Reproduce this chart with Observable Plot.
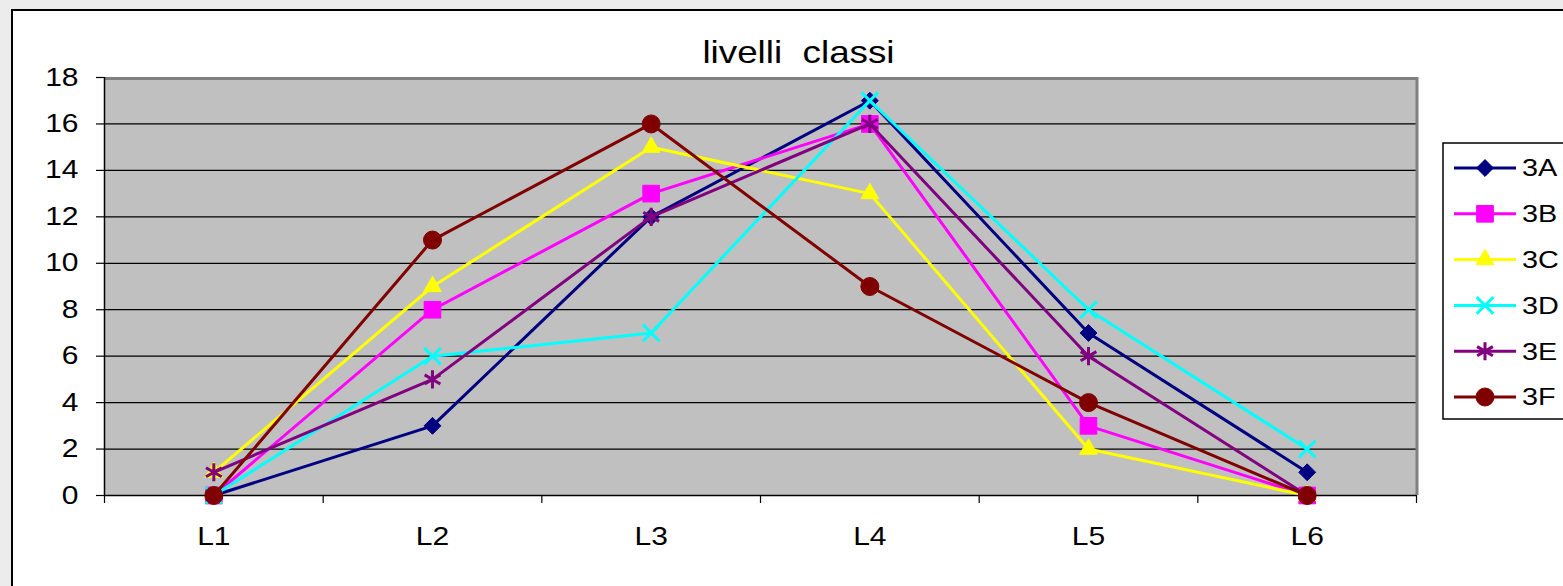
<!DOCTYPE html>
<html>
<head>
<meta charset="utf-8">
<script src="https://cdn.jsdelivr.net/npm/d3@7"></script>
<script src="https://cdn.jsdelivr.net/npm/@observablehq/plot@0.6"></script>
<style>
  html, body { margin: 0; padding: 0; background: #ececec; }
  #wrap { position: relative; width: 1563px; height: 586px; overflow: hidden; }
  #frame { position: absolute; left: 11px; top: 9px; width: 1600px; height: 620px; border: 2px solid #000; background: #fff; }
  #wrap svg { position: absolute; left: 0; top: 0; }
</style>
</head>
<body>
<div id="wrap"><div id="frame"></div></div>
<script>
const title = "livelli  classi";
const categories = ["L1", "L2", "L3", "L4", "L5", "L6"];
const seriesNames = ["3A", "3B", "3C", "3D", "3E", "3F"];
const values3A = [0, 3, 12, 17, 7, 1];
const values3B = [0, 8, 13, 16, 3, 0];
const values3C = [1, 9, 15, 13, 2, 0];
const values3D = [0, 6, 7, 17, 8, 2];
const values3E = [1, 5, 12, 16, 6, 0];
const values3F = [0, 11, 16, 9, 4, 0];
const yTicks = [0, 2, 4, 6, 8, 10, 12, 14, 16, 18];

const seriesValues = [values3A, values3B, values3C, values3D, values3E, values3F];
const colors = ["#000080", "#ff00ff", "#ffff00", "#00ffff", "#800080", "#800000"];
const markers = [
  {symbol: d3.symbolDiamond2, r: 7.6, filled: true},
  {symbol: d3.symbolSquare, r: 9.4, filled: true},
  {symbol: d3.symbolTriangle, r: 6.6, filled: true},
  {symbol: d3.symbolTimes, r: 7.6, filled: false},
  {symbol: d3.symbolAsterisk, r: 8.6, filled: false},
  {symbol: d3.symbolCircle, r: 9, filled: true}
];

const rows = seriesNames.map((s, k) =>
  categories.map((c, i) => ({series: s, cat: c, pos: i + 0.5, value: seriesValues[k][i]}))
);

const FONT = "'Liberation Sans', Arial, Helvetica, sans-serif";

const seriesMarks = rows.flatMap((data, k) => {
  const m = markers[k];
  return [
    Plot.line(data, {x: "pos", y: "value", stroke: colors[k], strokeWidth: 3}),
    Plot.dot(data, {
      x: "pos", y: "value", symbol: () => m.symbol, r: m.r,
      fill: m.filled ? colors[k] : "none",
      stroke: colors[k], strokeWidth: m.filled ? 1 : 3
    })
  ];
});

const plot = Plot.plot({
  width: 1563,
  height: 586,
  marginLeft: 104,
  marginRight: 147,
  marginTop: 77,
  marginBottom: 91,
  style: {background: "transparent", fontFamily: FONT, fontSize: "25px", color: "#000", overflow: "visible"},
  x: {type: "linear", domain: [0, categories.length]},
  y: {domain: [0, 18]},
  symbol: {type: "identity"},
  marks: [
    Plot.frame({fill: "#c0c0c0", stroke: null}),
    Plot.gridY(yTicks.slice(1, -1), {stroke: "#000", strokeOpacity: 1, strokeWidth: 1.2}),
    Plot.ruleY([18], {stroke: "#808080", strokeWidth: 3, dy: 1}),
    Plot.ruleX([categories.length], {stroke: "#808080", strokeWidth: 3, dx: 0.5}),
    Plot.axisY(yTicks, {tickSize: 8, tickPadding: 18, tickFormat: d => String(d), label: null, stroke: "#000", strokeWidth: 1.2, fontSize: 25}),
    Plot.axisX(d3.range(categories.length + 1), {tickSize: 8, tickFormat: () => "", label: null, stroke: "#000", strokeWidth: 1.2}),
    Plot.axisX(categories.map((c, i) => i + 0.5), {tickSize: 0, tickPadding: 32, tickFormat: d => categories[Math.floor(d)], label: null, fontSize: 25}),
    Plot.ruleX([0], {stroke: "#000", strokeWidth: 1.5}),
    Plot.ruleY([0], {stroke: "#000", strokeWidth: 1.5}),
    ...seriesMarks
  ]
});

const wrap = document.getElementById("wrap");
wrap.appendChild(plot);

// horizontal stretch of a text around its anchor point, in its local coordinates
function stretch(el, k) {
  if (!el.textContent) return;
  const bb = el.getBBox();
  const anchor = getComputedStyle(el).textAnchor;
  const ax = anchor === "end" ? bb.x + bb.width : anchor === "middle" ? bb.x + bb.width / 2 : bb.x;
  const t = el.getAttribute("transform") || "";
  el.setAttribute("transform", `${t} translate(${ax},0) scale(${k},1) translate(${-ax},0)`);
}
d3.select(plot).selectAll("text").each(function() { stretch(this, 1.2); });

// Title and legend overlay
const ov = d3.create("svg").attr("width", 1563).attr("height", 586)
  .style("pointer-events", "none").style("font-family", FONT);
wrap.appendChild(ov.node());

const tt = ov.append("text").attr("x", 798.5).attr("y", 63).attr("text-anchor", "middle")
  .attr("font-size", 32).attr("fill", "#000").style("white-space", "pre").text(title);
stretch(tt.node(), 1.15);

ov.append("rect").attr("x", 1443).attr("y", 143).attr("width", 200).attr("height", 276)
  .attr("fill", "#fff").attr("stroke", "#000").attr("stroke-width", 1.5);

seriesNames.forEach((s, k) => {
  const cy = 168 + k * 45.8;
  const g = ov.append("g");
  g.append("line").attr("x1", 1454).attr("x2", 1516).attr("y1", cy).attr("y2", cy)
    .attr("stroke", colors[k]).attr("stroke-width", 3);
  const m = markers[k];
  g.append("path").attr("transform", `translate(1485,${cy})`)
    .attr("d", d3.symbol(m.symbol, m.r * m.r * Math.PI)())
    .attr("fill", m.filled ? colors[k] : "none")
    .attr("stroke", colors[k]).attr("stroke-width", m.filled ? 1 : 3);
  const tx = g.append("text").attr("x", 1522).attr("y", cy + 8.5).attr("font-size", 24)
    .attr("fill", "#000").text(s);
  stretch(tx.node(), 1.2);
});
</script>
</body>
</html>
